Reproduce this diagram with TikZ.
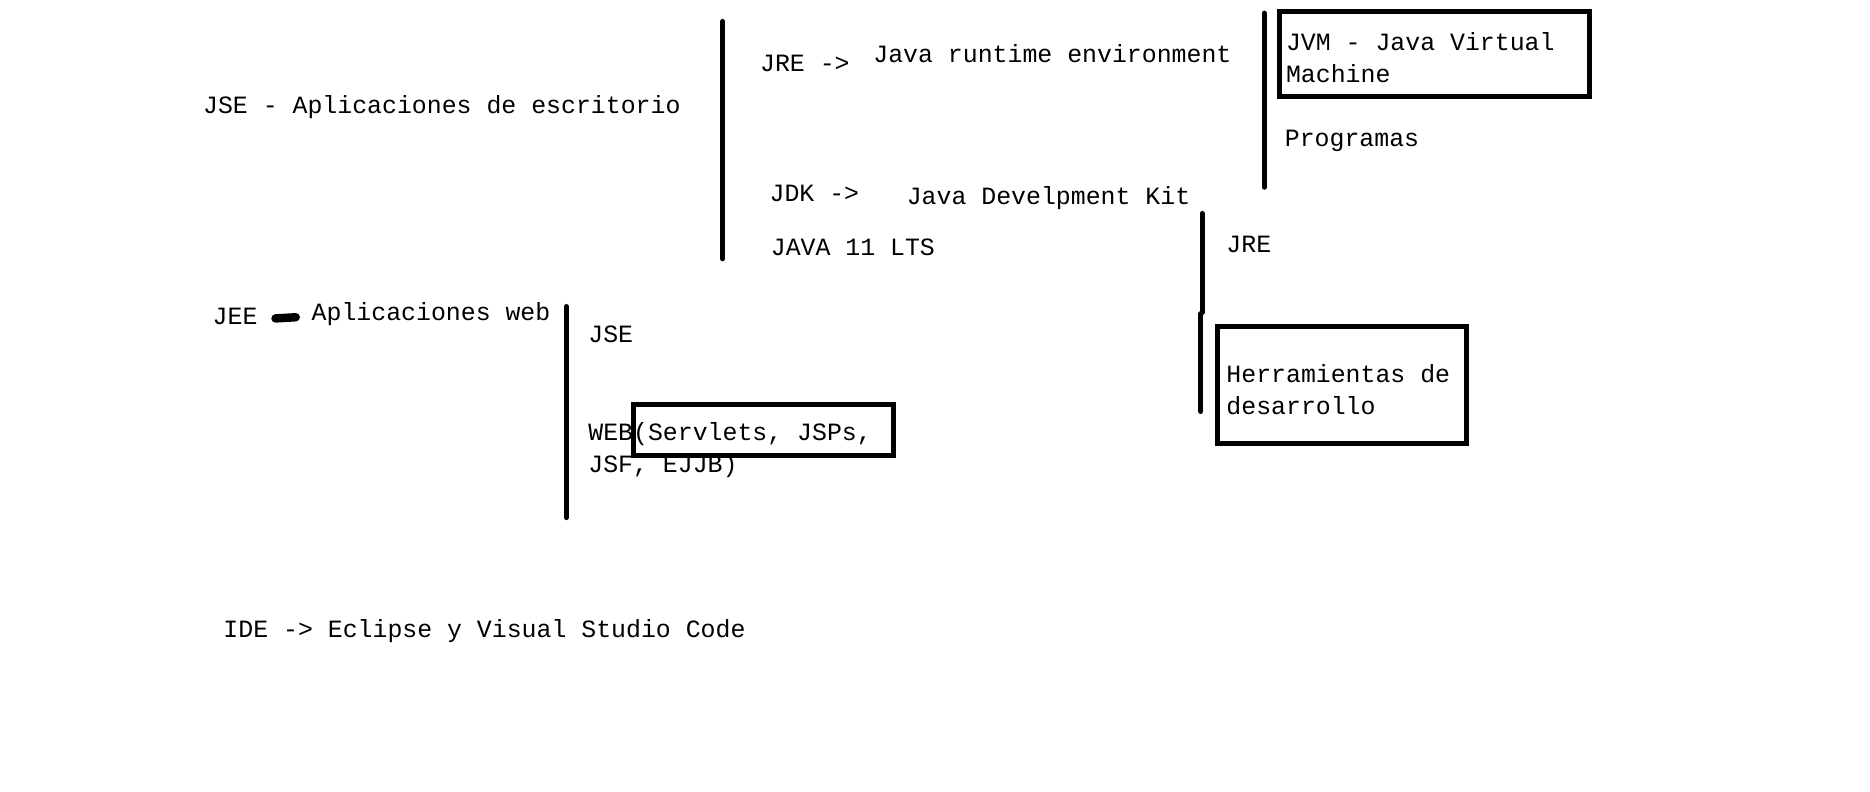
\documentclass[tikz,border=0pt]{standalone}
\usepackage{fontspec}
\setmonofont{Liberation Mono}

\begin{document}
\begin{tikzpicture}[x=0.0199cm,y=-0.0199cm,
    txt/.style={anchor=north west,inner sep=0pt,align=left,
                font=\ttfamily\fontsize{11.8}{15.3}\selectfont},
    bar/.style={line width=2.4pt,line cap=round},
    frame/.style={line width=2.4pt}]

            %\draw [help lines] (0,0) grid (1568,664);
            \useasboundingbox (0,0) rectangle (1568,664);

            \path   (170,80)   node (jse)      [txt] {JSE - Aplicaciones de escritorio}
                    (637,46)   node (jrearrow) [txt] {JRE ->}
                    (732,37)   node (jrename)  [txt] {Java runtime environment}
                    (645,155)  node (jdkarrow) [txt] {JDK ->}
                    (760,156)  node (jdkname)  [txt] {Java Develpment Kit}
                    (646,200)  node (javaver)  [txt] {JAVA 11 LTS}
                    (1078,27)  node (jvm)      [txt] {JVM - Java Virtual\\Machine}
                    (1077,109) node (prog)     [txt] {Programas}
                    (1028,198) node (jdkjre)   [txt] {JRE}
                    (1028,305) node (herr)     [txt] {Herramientas de\\desarrollo}
                    (178,258)  node (jee)      [txt] {JEE}
                    (261,253)  node (web)      [txt] {Aplicaciones web}
                    (493,273)  node (jeejse)   [txt] {JSE}
                    (493,354)  node (servlets) [txt] {WEB(Servlets, JSPs,\\JSF, EJJB)}
                    (187,519)  node (ide)      [txt] {IDE -> Eclipse y Visual Studio Code};

            % brackets
            \coordinate (jsetop) at (606,18);   \coordinate (jsebot) at (606,217);
            \coordinate (jretop) at (1060,11);  \coordinate (jrebot) at (1060,157);
            \coordinate (jdktop) at (1008,179); \coordinate (jdkmid) at (1008,262);
            \coordinate (jdkmid2) at (1007,263); \coordinate (jdkbot) at (1007,345);
            \coordinate (jeetop) at (475,257);  \coordinate (jeebot) at (475,434);
            \coordinate (dasha) at (231,267);   \coordinate (dashb) at (248,266);

            \draw [bar] (jsetop) -- (jsebot);
            \draw [bar] (jretop) -- (jrebot);
            \draw [bar] (jdktop) -- (jdkmid);
            \draw [bar] (jdkmid2) -- (jdkbot);
            \draw [bar] (jeetop) -- (jeebot);
            \draw [line width=4pt,line cap=round] (dasha) -- (dashb);

            % boxes
            \draw [frame] (1073,10) rectangle (1333,81);
            \draw [frame] (1021,274) rectangle (1230,372);
            \draw [frame] (531,339) rectangle (749,382);

        \end{tikzpicture}
\end{document}
